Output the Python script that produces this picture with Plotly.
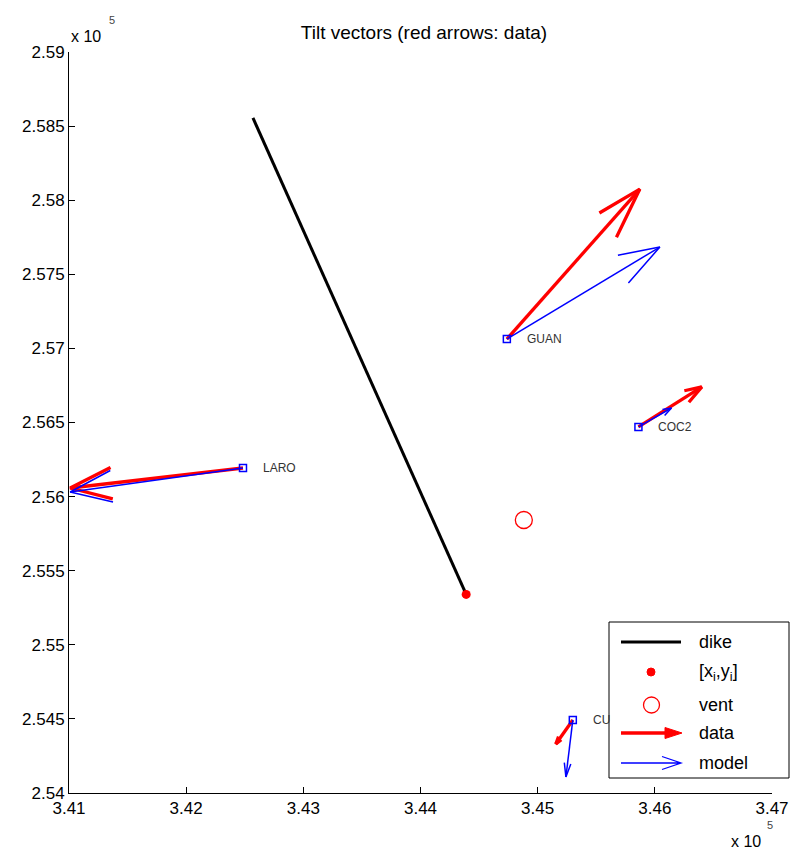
import numpy as np
import plotly.graph_objects as go

# ---- data (UTM metres) ----
stations = ["GUAN", "COC2", "LARO", "CU"]
sta_x = [344737, 345860, 342485, 345300]
sta_y = [257063, 256470, 256193, 254493]
# observed tilt vectors (scaled, metres on the map)
data_dx = [1135, 541, -1475, -145]
data_dy = [1012, 270, -135, -162]
# modelled tilt vectors (scaled, metres on the map)
model_dx = [1306, 282, -1475, -59]
model_dy = [621, 128, -162, -385]

dike_x = [342570, 344390]
dike_y = [258555, 255340]
xi_yi = (344390, 255340)
vent = (344882, 255842)

x_ticks = [341000, 342000, 343000, 344000, 345000, 346000, 347000]
x_ticktext = ["3.41", "3.42", "3.43", "3.44", "3.45", "3.46", "3.47"]
y_ticks = [254000, 254500, 255000, 255500, 256000, 256500, 257000,
           257500, 258000, 258500, 259000]
y_ticktext = ["2.54", "2.545", "2.55", "2.555", "2.56", "2.565", "2.57",
              "2.575", "2.58", "2.585", "2.59"]

FONT = "Liberation Sans, Arial, sans-serif"
W, H = 794, 851
L, R, T, B = 69, 772, 52, 793  # plot area edges in pixels


def quiver_lines(x, y, u, v, alpha=0.24, beta=0.3):
    """Shaft plus open arrow head for each vector, as one polyline with gaps."""
    xs, ys = [], []
    for x0, y0, du, dv in zip(x, y, u, v):
        xe, ye = x0 + du, y0 + dv
        xs += [x0, xe, None]
        ys += [y0, ye, None]
        xs += [xe - alpha * (du + beta * dv), xe, xe - alpha * (du - beta * dv), None]
        ys += [ye - alpha * (dv - beta * du), ye, ye - alpha * (dv + beta * du), None]
    return xs, ys


fig = go.Figure()

# dike
fig.add_trace(go.Scatter(x=dike_x, y=dike_y, mode="lines",
                         line=dict(color="black", width=3), showlegend=False))

# observed and modelled arrows
mx, my = quiver_lines(sta_x, sta_y, model_dx, model_dy)
dx, dy = quiver_lines(sta_x, sta_y, data_dx, data_dy)
fig.add_trace(go.Scatter(x=dx, y=dy, mode="lines",
                         line=dict(color="#ff0000", width=3.3), showlegend=False))
fig.add_trace(go.Scatter(x=mx, y=my, mode="lines",
                         line=dict(color="#0000ff", width=1.5), showlegend=False))

# stations
fig.add_trace(go.Scatter(x=sta_x, y=sta_y, mode="markers",
                         marker=dict(symbol="square-open", size=7,
                                     color="#0000ff", line=dict(width=1.5)),
                         showlegend=False))
for name, sx, sy in zip(stations, sta_x, sta_y):
    fig.add_annotation(x=sx, y=sy, xref="x", yref="y", text=name,
                       showarrow=False, xanchor="left", xshift=18,
                       font=dict(family=FONT, size=12, color="#333333"))

# dike tip and vent
fig.add_trace(go.Scatter(x=[xi_yi[0]], y=[xi_yi[1]], mode="markers",
                         marker=dict(symbol="circle", size=9, color="#ff0000"),
                         showlegend=False))
fig.add_trace(go.Scatter(x=[vent[0]], y=[vent[1]], mode="markers",
                         marker=dict(symbol="circle-open", size=17, color="#ff0000",
                                     line=dict(width=1.3)),
                         showlegend=False))


def px(xp):
    return (xp - L) / (R - L)


def py(yp):
    return (B - yp) / (B - T)


# legend box drawn by hand (arrows cannot be legend symbols)
shapes = [dict(type="rect", xref="paper", yref="paper",
               x0=px(609), x1=px(789), y0=py(778), y1=py(622),
               line=dict(color="black", width=1), fillcolor="white", layer="above")]
shapes.append(dict(type="line", xref="paper", yref="paper",
                   x0=px(621), x1=px(681), y0=py(642), y1=py(642),
                   line=dict(color="black", width=3), layer="above"))
shapes.append(dict(type="circle", xref="paper", yref="paper",
                   x0=px(647), x1=px(655), y0=py(676), y1=py(668),
                   line=dict(color="#ff0000", width=1), fillcolor="#ff0000", layer="above"))
shapes.append(dict(type="circle", xref="paper", yref="paper",
                   x0=px(643.5), x1=px(659.5), y0=py(713), y1=py(697),
                   line=dict(color="#ff0000", width=1.3), layer="above"))
shapes.append(dict(type="line", xref="paper", yref="paper",
                   x0=px(621), x1=px(668), y0=py(733), y1=py(733),
                   line=dict(color="#ff0000", width=3.5), layer="above"))
shapes.append(dict(type="path", xref="paper", yref="paper",
                   path=f"M {px(665)},{py(727.5)} L {px(682)},{py(733)} L {px(665)},{py(738.5)} Z",
                   line=dict(color="#ff0000", width=1), fillcolor="#ff0000", layer="above"))
shapes.append(dict(type="path", xref="paper", yref="paper",
                   path=(f"M {px(621)},{py(763)} L {px(681)},{py(763)} "
                         f"M {px(662)},{py(756.5)} L {px(681)},{py(763)} L {px(662)},{py(769.5)}"),
                   line=dict(color="#0000ff", width=1.3), layer="above"))

legend_labels = ["dike", "[x<sub>i</sub>,y<sub>i</sub>]", "vent", "data", "model"]
legend_rows = [642, 672, 705, 733, 763]
for lab, yr in zip(legend_labels, legend_rows):
    fig.add_annotation(x=px(697), y=py(yr), xref="paper", yref="paper", text=lab,
                       showarrow=False, xanchor="left", yanchor="middle",
                       font=dict(family=FONT, size=18, color="black"))

# axis exponent labels
fig.add_annotation(x=px(69), y=py(36), xref="paper", yref="paper", text="x 10",
                   showarrow=False, xanchor="left", yanchor="middle",
                   font=dict(family=FONT, size=16, color="black"))
fig.add_annotation(x=px(107), y=py(20), xref="paper", yref="paper", text="5",
                   showarrow=False, xanchor="left", yanchor="middle",
                   font=dict(family=FONT, size=11, color="#444444"))
fig.add_annotation(x=px(729), y=py(841), xref="paper", yref="paper", text="x 10",
                   showarrow=False, xanchor="left", yanchor="middle",
                   font=dict(family=FONT, size=16, color="black"))
fig.add_annotation(x=px(765), y=py(825), xref="paper", yref="paper", text="5",
                   showarrow=False, xanchor="left", yanchor="middle",
                   font=dict(family=FONT, size=11, color="#444444"))

fig.update_layout(
    width=W, height=H,
    margin=dict(l=L, r=W - R, t=T, b=H - B, autoexpand=False),
    paper_bgcolor="white", plot_bgcolor="white",
    shapes=shapes,
    showlegend=False,
    title=dict(text="Tilt vectors (red arrows: data)", x=(424 / W), xanchor="center",
               y=1 - 32 / H, yanchor="middle", yref="container",
               font=dict(family=FONT, size=19, color="black")),
    xaxis=dict(range=[341000, 347000], tickvals=x_ticks, ticktext=x_ticktext,
               ticks="inside", ticklen=6, tickcolor="black", showline=True,
               linecolor="black", linewidth=1, showgrid=False, zeroline=False,
               automargin=False,
               mirror=False, tickfont=dict(family=FONT, size=17, color="black")),
    yaxis=dict(range=[254000, 259000], tickvals=y_ticks, ticktext=y_ticktext,
               ticks="inside", ticklen=6, tickcolor="black", showline=True,
               linecolor="black", linewidth=1, showgrid=False, zeroline=False,
               automargin=False,
               mirror=False, tickfont=dict(family=FONT, size=17, color="black")),
)

fig.write_html("out.html")
